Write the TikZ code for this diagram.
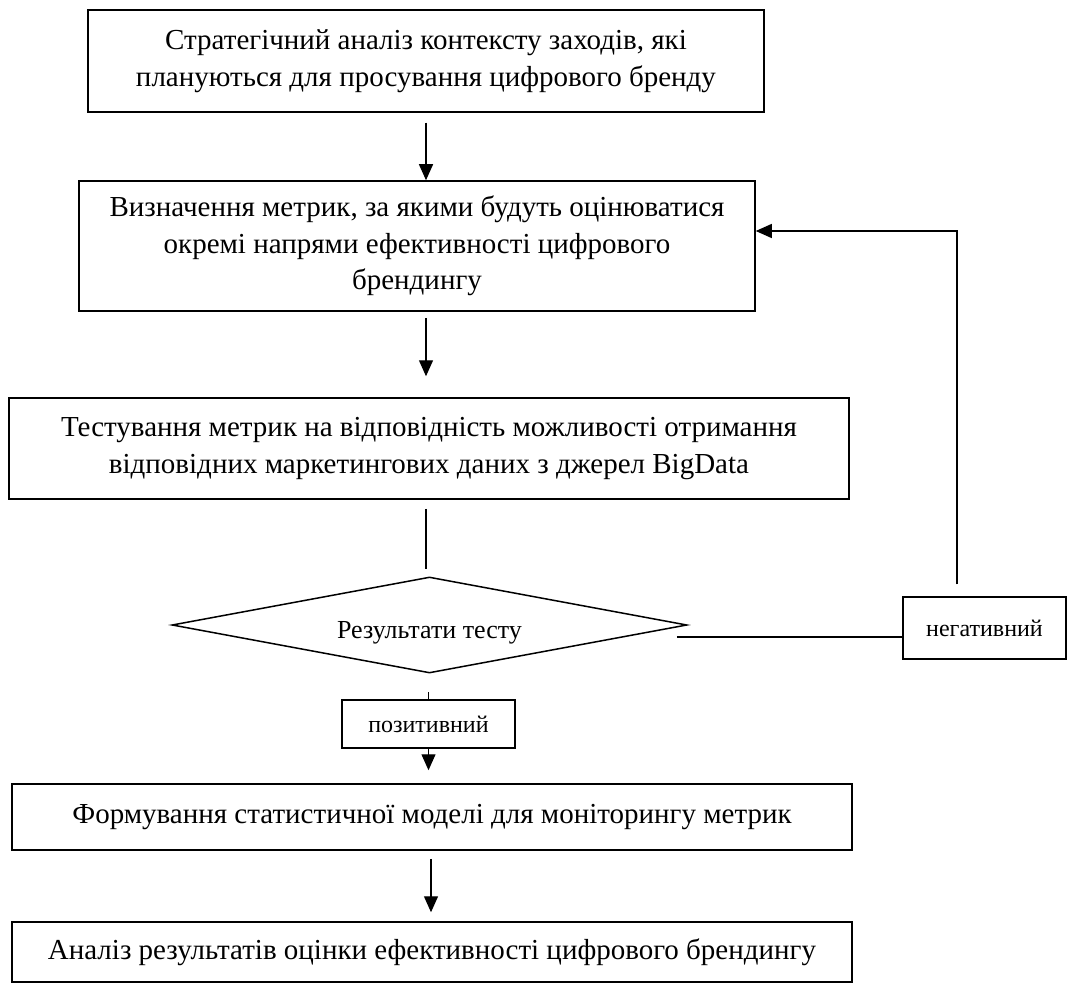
\documentclass[tikz,border=0pt]{standalone}
\usepackage{fontspec}
\setmainfont{Liberation Serif}
\usetikzlibrary{arrows.meta,shapes.geometric,calc}

\tikzset{
  stepbox/.style={draw=black, line width=1.5pt, rectangle, inner sep=0pt, align=center,
    font=\fontsize{29}{36.5}\selectfont},
  labelbox/.style={draw=black, line width=1.5pt, rectangle, inner sep=0pt, align=center,
    font=\fontsize{24}{28}\selectfont},
  decision/.style={draw=black, line width=1.5pt, diamond, aspect=5.36, inner sep=0pt,
    font=\fontsize{26}{30}\selectfont, text height=32pt, text depth=6pt},
  link/.style={draw=black, line width=1.3pt},
  arr/.style={link, -{Triangle[length=16pt, width=14pt]}}
}

\begin{document}
\begin{tikzpicture}[x=1pt, y=-1pt]
  \useasboundingbox (0,0) rectangle (1068,984);

  % main process steps
  \node[stepbox, minimum width=676pt, minimum height=102pt] (b1) at (426,61)
    {Стратегічний аналіз контексту заходів, які\\плануються для просування цифрового бренду};
  \node[stepbox, minimum width=676pt, minimum height=130pt] (b2) at (417,246)
    {Визначення метрик, за якими будуть оцінюватися\\окремі напрями ефективності цифрового\\брендингу};
  \node[stepbox, minimum width=840pt, minimum height=101pt] (b3) at (429,448.5)
    {Тестування метрик на відповідність можливості отримання\\відповідних маркетингових даних з джерел BigData};
  \node[decision, minimum width=515pt, minimum height=96pt] (d) at (429.5,625)
    {Результати тесту};
  \node[labelbox, minimum width=163pt, minimum height=62pt] (neg) at (984.5,628)
    {негативний};
  \node[labelbox, minimum width=173pt, minimum height=48pt] (pos) at (428.5,724)
    {позитивний};
  \node[stepbox, minimum width=840pt, minimum height=66pt] (b4) at (432,817)
    {Формування статистичної моделі для моніторингу метрик};
  \node[stepbox, minimum width=840pt, minimum height=60pt] (b5) at (432,952)
    {Аналіз результатів оцінки ефективності цифрового брендингу};

  % connectors
  \draw[arr] ([yshift=-10pt]b1.south) -- (b2.north -| b1.south);
  \draw[arr] ([xshift=9pt, yshift=-6pt]b2.south) -- ([yshift=21pt]b3.north -| 426,0);
  \draw[link] ([xshift=-3pt, yshift=-9pt]b3.south) -- ([yshift=7pt]d.north -| 426,0);

  % negative branch: back to the metrics step
  \coordinate (dr) at ($(d.east)+(-11pt,-12pt)$);
  \draw[link] (dr) -- (dr -| neg.west);
  \draw[arr] ([xshift=-27.5pt, yshift=12pt]neg.north) |- ([yshift=15pt]b2.east);

  % positive branch
  \draw[link] ([yshift=7pt]pos.north) -- (pos.north);
  \draw[arr] (pos.south) -- ([yshift=13pt]b4.north -| pos.south);
  \draw[arr] ([xshift=-1pt, yshift=-8pt]b4.south) -- ([xshift=-1pt, yshift=9pt]b5.north);
\end{tikzpicture}
\end{document}
